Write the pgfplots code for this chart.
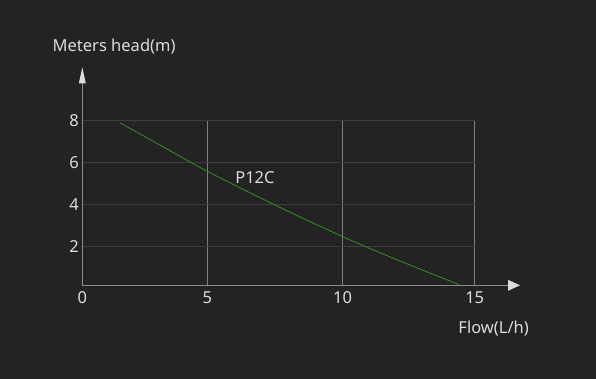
\documentclass[border=0pt]{standalone}
\usepackage{pgfplots}
\pgfplotsset{compat=1.18}
\usepackage{fontspec}
\setmainfont{Noto Sans}
\definecolor{bg}{HTML}{232323}
\definecolor{txt}{HTML}{DCDCDC}
\definecolor{hgrid}{HTML}{3E3E3E}
\definecolor{vgrid}{HTML}{7E7E7E}
\definecolor{axc}{HTML}{8C8C8C}
\definecolor{curve}{RGB}{58,140,40}
\begin{document}
\begin{tikzpicture}
\fill[bg] (0pt,0pt) rectangle (596pt,379pt);
\begin{axis}[
  at={(82.3pt,93.7pt)}, anchor=south west,
  scale only axis, width=392.4pt, height=164.6pt,
  xmin=0, xmax=15, ymin=0.16, ymax=8,
  axis line style={draw=none},
  xtick={0,4.78,9.95,15}, xticklabels={0,5,10,15},
  ytick={2,4,6,8},
  major tick length=0pt,
  xmajorgrids, ymajorgrids,
  every axis x grid/.style={vgrid, line width=0.8pt},
  every axis y grid/.style={hgrid, line width=1.4pt},
  /pgf/number format/assume math mode=true,
  tick label style={font=\fontsize{16.5}{19}\selectfont, text=txt},
  xticklabel style={yshift=-2.5pt},
  yticklabel style={xshift=0pt},
  clip=false,
]
\addplot[curve, line width=0.8pt, smooth] coordinates {
  (1.44,7.90) (2.97,6.84) (4.78,5.59) (7.29,4.03) (9.95,2.48) (12.14,1.32) (14.41,0.19)
};
\node[text=txt, font=\fontsize{16.5}{19}\selectfont] at (axis cs:6.60,5.30) {P12C};
\end{axis}
% axis lines with arrows
\draw[axc, line width=0.9pt] (82.3pt,93.7pt) -- (82.3pt,296pt);
\draw[axc, line width=0.9pt] (82.3pt,93.7pt) -- (509pt,93.7pt);
\fill[txt] (82.3pt,311.7pt) -- (78.8pt,295.7pt) -- (85.8pt,295.7pt) -- cycle;
\fill[txt] (520pt,93.7pt) -- (508pt,99.2pt) -- (508pt,88.2pt) -- cycle;
\node[anchor=west, inner sep=0, text=txt, font=\fontsize{16.5}{19}\selectfont] at (52.5pt,332pt) {Meters head(m)};
\node[anchor=east, inner sep=0, text=txt, font=\fontsize{16.5}{19}\selectfont] at (529pt,50.7pt) {Flow(L/h)};
\end{tikzpicture}
\end{document}
